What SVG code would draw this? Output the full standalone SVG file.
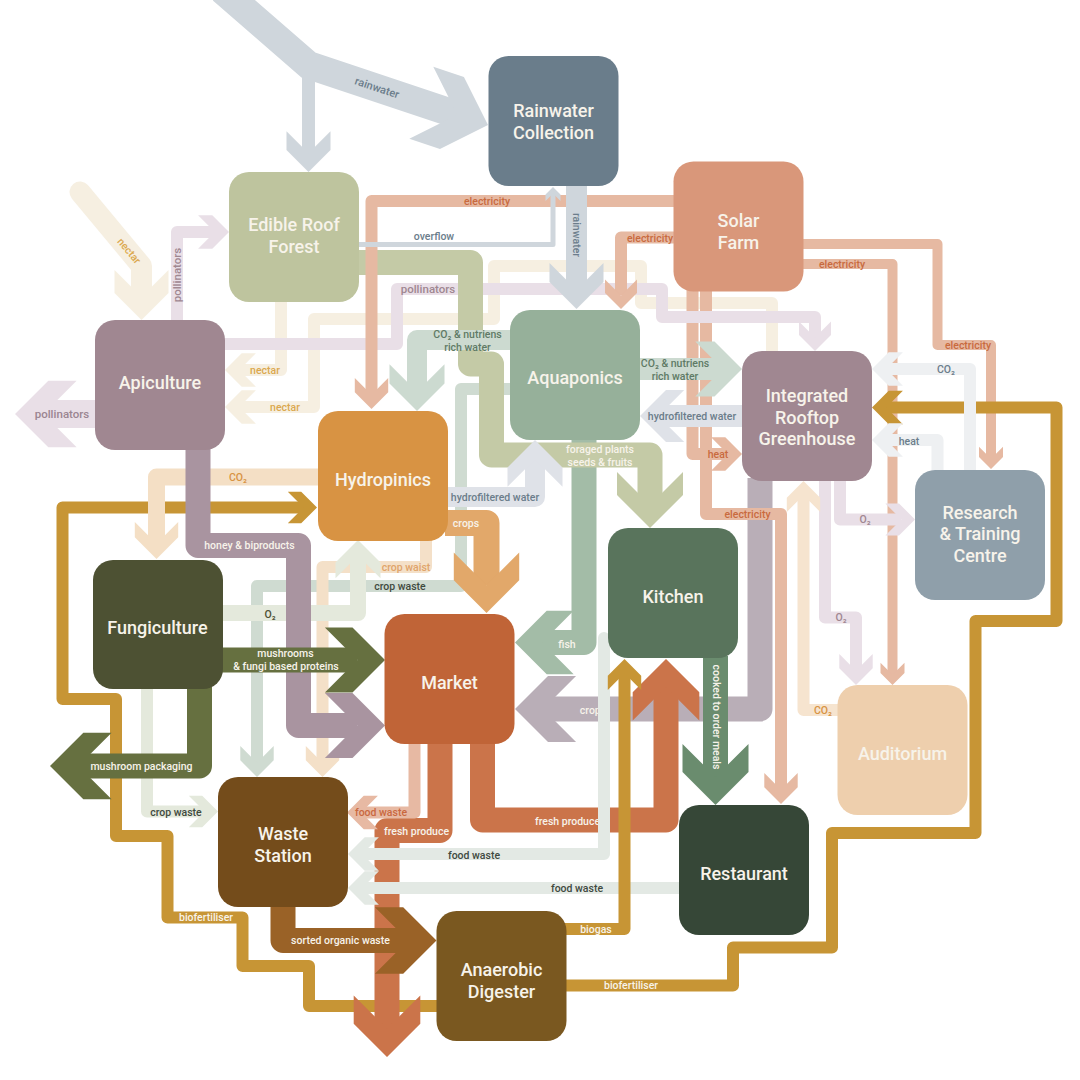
<svg xmlns="http://www.w3.org/2000/svg" xmlns:xlink="http://www.w3.org/1999/xlink" width="1080" height="1080" viewBox="0 0 1080 1080">
<style>
.s{fill:none;stroke:currentColor;stroke-linejoin:round}
use{fill:currentColor;stroke:none}
.l{font-family:Roboto,'Liberation Sans',sans-serif;font-size:10.5px;font-weight:500;text-anchor:middle;dominant-baseline:central}
.nt{font-family:Roboto,'Liberation Sans',sans-serif;font-size:18px;font-weight:500;fill:#f7f3ea;text-anchor:middle}
.rw{color:#cfd6dc}.nec{color:#f6efe1}.pol{color:#e9dfe7}.ele{color:#e6b9a2}.for{color:#c4caa6}
.cnw{color:#ccdad0}.hfw{color:#dfe2e8}.crp{color:#e2a86a}.cwt{color:#f4e0c8}.cws{color:#cfdbd1}
.o2f{color:#e4e9dc}.co2{color:#f4dfc5}.gold{color:#c79535}.hon{color:#a994a0}.mush{color:#667040}
.fish{color:#a3bca7}.crp2{color:#b9aeb7}.frs{color:#cb744a}.fwm{color:#e7b9a3}.fw{color:#e3e9e4}
.cook{color:#6a8c6e}.srt{color:#9a6227}.rsc{color:#eef0f2}.aud{color:#f6e4cf}
.lw{fill:#f7f3ea}.lg{fill:#6b7d8b}.ln{fill:#dba84e}.lp{fill:#a08791}.le{fill:#c96a3e}
.lc{fill:#5f7a66}.ld{fill:#3f4a3f}.lo{fill:#d89343}.lcw{fill:#e0a46a}
</style>
<defs>
<path id="hA" d="M0,0 L-1,-1 L-1.85,-1 L-0.85,0 L-1.85,1 L-1,1 Z"/>
<path id="hB" d="M0,0 L-1,-1 L-1.7,-1 L-0.7,0 L-1.7,1 L-1,1 Z"/>
</defs>
<rect width="1080" height="1080" fill="#ffffff"/>
<g id="connectors">
<g id="c-rain-in" class="rw">
<path class="s" style="stroke-linejoin:miter" stroke-width="28" d="M222,-10 L308.5,65 L458,115"/>
<path class="s" stroke-width="13" d="M308.5,60 V154"/>
<use href="#hA" transform="translate(488,125) rotate(18.4) scale(38)"/>
<use href="#hA" transform="translate(308.5,172) rotate(90) scale(22)"/>
<text class="l lg" style="font-size:11px" transform="translate(377,88) rotate(18.4)">rainwater</text>
</g>
<g id="c-nectar-in" class="nec">
<path class="s" stroke-width="21" stroke-linecap="round" d="M80,192 L141.5,266 L141.5,298"/>
<use href="#hA" transform="translate(141.5,320) rotate(90) scale(27)"/>
<text class="l ln" transform="translate(129,251) rotate(50)">nectar</text>
</g>
<g id="c-nectar1" class="nec">
<path class="s" stroke-width="12" d="M281,300 V370 H239"/>
<use href="#hA" transform="translate(225,370) rotate(180) scale(16.7)"/>
<text class="l ln" x="265" y="370">nectar</text>
</g>
<g id="c-nectar2" class="nec">
<path class="s" stroke-width="12" d="M772,360 V303 H641 V266 H494 V319 H314 V407 H239"/>
<use href="#hA" transform="translate(225,407) rotate(180) scale(16.7)"/>
<text class="l ln" x="285" y="407">nectar</text>
</g>
<g id="c-crops-gh" class="crp2">
<path class="s" stroke-width="25" d="M760,478 V709 H543"/>
<use href="#hA" transform="translate(515,709) rotate(180) scale(33)"/>
<text class="l lw" x="593" y="710">crops</text>
</g>
<g id="c-elec-rest" class="ele">
<path class="s" stroke-width="12" d="M706,290 V514 H781 V790"/>
<use href="#hA" transform="translate(781,804) rotate(90) scale(16.7)"/>
<text class="l le" x="747.5" y="514">electricity</text>
</g>
<g id="c-heat-solar" class="ele">
<path class="s" stroke-width="12" d="M692.5,290 V454 H728"/>
<use href="#hA" transform="translate(742,454) rotate(0) scale(16.7)"/>
<text class="l le" x="718" y="454">heat</text>
</g>
<g id="c-elec-research" class="ele">
<path class="s" stroke-width="10" d="M802,244 H937.5 V345 H991 V459"/>
<use href="#hA" transform="translate(991,469) rotate(90) scale(12)"/>
<text class="l le" x="968" y="345">electricity</text>
</g>
<g id="c-elec-aud" class="ele">
<path class="s" stroke-width="10" d="M802,264 H892.5 V675"/>
<use href="#hA" transform="translate(892.5,685) rotate(90) scale(12)"/>
<text class="l le" x="842" y="264">electricity</text>
</g>
<g id="c-poll-edible" class="pol">
<path class="s" stroke-width="12" d="M177,322 V232 H215"/>
<use href="#hA" transform="translate(229,232) rotate(0) scale(16.7)"/>
<text class="l lp" style="font-size:11.5px" transform="translate(177,275) rotate(-90)">pollinators</text>
</g>
<g id="c-poll-gh" class="pol">
<path class="s" stroke-width="12" d="M222,344 H397 V289 H662 V317 H815 V338"/>
<use href="#hA" transform="translate(815,351) rotate(90) scale(16)"/>
<text class="l lp" style="font-size:11.5px" x="428" y="289">pollinators</text>
</g>
<g id="c-poll-out" class="pol">
<path class="s" stroke-width="28" d="M97,414 H43"/>
<use href="#hA" transform="translate(15,414) rotate(180) scale(33.3)"/>
<text class="l" style="font-size:11.5px;fill:#9b8591" x="62" y="414">pollinators</text>
</g>
<g id="c-cropwaste-aq" class="cws">
<path class="s" stroke-width="12" d="M512,389 H461 V586 H257 V763"/>
<use href="#hA" transform="translate(257,777) rotate(90) scale(16.7)"/>
<text class="l ld" x="400" y="586">crop waste</text>
</g>
<g id="c-fish" class="fish">
<path class="s" stroke-width="25" d="M584,437 V642.5 H542"/>
<use href="#hA" transform="translate(515,642.5) rotate(180) scale(31.7)"/>
<text class="l lw" x="567" y="644">fish</text>
</g>
<g id="c-foraged" class="for">
<path class="s" stroke-width="25" d="M356,262.5 H470.5 V364 H491.5 V455 H650 V505"/>
<use href="#hB" transform="translate(650,528) rotate(90) scale(33)"/>
<text class="l lw" x="600" y="449">foraged plants</text>
<text class="l lw" x="600" y="462">seeds &amp; fruits</text>
</g>
<g id="c-elec-hydro" class="ele">
<path class="s" stroke-width="12" d="M675,201 H371.5 V395"/>
<use href="#hA" transform="translate(371.5,409) rotate(90) scale(16.7)"/>
<text class="l le" x="487" y="201">electricity</text>
</g>
<g id="c-elec-aqua" class="ele">
<path class="s" stroke-width="12" d="M675,237.5 H621 V295"/>
<use href="#hA" transform="translate(621,309) rotate(90) scale(16)"/>
<text class="l le" x="650" y="238">electricity</text>
</g>
<g id="c-overflow" class="rw">
<path class="s" stroke-width="5" d="M356,244.5 H553 V193"/>
<use href="#hA" transform="translate(553,187) rotate(-90) scale(7.5)"/>
<text class="l lg" x="434" y="236">overflow</text>
</g>
<g id="c-rain-aqua" class="rw">
<path class="s" stroke-width="21" d="M576.5,184 V290"/>
<use href="#hB" transform="translate(576.5,309) rotate(90) scale(27)"/>
<text class="l lg" transform="translate(576.5,235) rotate(90)">rainwater</text>
</g>
<g id="c-cnw-hydro" class="cnw">
<path class="s" stroke-width="20" d="M512,340 H417 V392"/>
<use href="#hB" transform="translate(417,411) rotate(90) scale(27.5)"/>
<text class="l lc" x="467.5" y="334">CO₂ &amp; nutriens</text>
<text class="l lc" x="467.5" y="347">rich water</text>
</g>
<g id="c-cnw-gh" class="cnw">
<path class="s" stroke-width="22" d="M637,369 H723"/>
<use href="#hB" transform="translate(742,369) rotate(0) scale(27.5)"/>
<text class="l lc" x="675" y="363">CO₂ &amp; nutriens</text>
<text class="l lc" x="675" y="376">rich water</text>
</g>
<g id="c-hfw-gh" class="hfw">
<path class="s" stroke-width="22" d="M744,416 H658"/>
<use href="#hB" transform="translate(640,416) rotate(180) scale(26)"/>
<text class="l lg" x="692" y="416">hydrofiltered water</text>
</g>
<g id="c-hfw-hydro" class="hfw">
<path class="s" stroke-width="20" d="M445,497 H535 V459"/>
<use href="#hB" transform="translate(535,440) rotate(-90) scale(27.5)"/>
<text class="l lg" x="495" y="497">hydrofiltered water</text>
</g>
<g id="c-biofert-hydro" class="gold">
<path class="s" stroke-width="12" d="M438,1006 H309 V966 H242.5 V917.5 H167.5 V836 H116 V699 H62.5 V507.5 H304"/>
<use href="#hA" transform="translate(317,507.5) rotate(0) scale(15.8)"/>
<text class="l lw" x="206" y="917.5">biofertiliser</text>
</g>
<g id="c-cropwaste-fungi" class="o2f">
<path class="s" stroke-width="12" d="M147,687 V811.5 H205"/>
<use href="#hA" transform="translate(218,811.5) rotate(0) scale(15.8)"/>
<text class="l ld" x="176" y="812">crop waste</text>
</g>
<g id="c-co2-fungi" class="co2">
<path class="s" stroke-width="17" d="M320,477 H156.5 V544"/>
<use href="#hB" transform="translate(156.5,559) rotate(90) scale(21.7)"/>
<text class="l lo" x="238" y="477">CO₂</text>
</g>
<g id="c-cropwaist" class="cwt">
<path class="s" stroke-width="12" d="M426,538 V567 H322.5 V763"/>
<use href="#hA" transform="translate(322.5,777) rotate(90) scale(16.7)"/>
<text class="l lcw" x="406" y="567">crop waist</text>
</g>
<g id="c-o2-fungi" class="o2f">
<path class="s" stroke-width="16" d="M220,613 H358 V555"/>
<use href="#hB" transform="translate(358,540) rotate(-90) scale(22.5)"/>
<text class="l" style="fill:#4e5133" x="270" y="614">O₂</text>
</g>
<g id="c-crops-hydro" class="crp">
<path class="s" stroke-width="26" d="M445,523 H486.5 V585"/>
<use href="#hA" transform="translate(486.5,613) rotate(90) scale(32.7)"/>
<text class="l lw" x="466" y="523">crops</text>
</g>
<g id="c-honey" class="hon">
<path class="s" stroke-width="25" d="M198,447 V545.5 H298.5 V725.5 H357"/>
<use href="#hA" transform="translate(385,725.5) rotate(0) scale(32.5)"/>
<text class="l lw" x="249.5" y="545.5">honey &amp; biproducts</text>
</g>
<g id="c-mushrooms" class="mush">
<path class="s" stroke-width="25" d="M220,660 H357"/>
<use href="#hA" transform="translate(385,660) rotate(0) scale(32.5)"/>
<text class="l lw" x="285.5" y="653.5">mushrooms</text>
<text class="l lw" x="286" y="666">&amp; fungi based proteins</text>
</g>
<g id="c-packaging" class="mush">
<path class="s" stroke-width="25" d="M199.5,687 V766 H78"/>
<use href="#hA" transform="translate(50,766) rotate(180) scale(33.3)"/>
<text class="l lw" x="141.5" y="766.5">mushroom packaging</text>
</g>
<g id="c-fresh-down" class="frs">
<path class="s" stroke-width="25" d="M440,742 V830.5 H387 V1029"/>
<use href="#hA" transform="translate(387,1057) rotate(90) scale(33.3)"/>
<text class="l lw" x="416.5" y="831">fresh produce</text>
</g>
<g id="c-fresh-kitchen" class="frs">
<path class="s" stroke-width="25" d="M482.5,742 V820 H666 V687"/>
<use href="#hA" transform="translate(666,659) rotate(-90) scale(33.3)"/>
<text class="l lw" x="567.5" y="821.5">fresh produce</text>
</g>
<g id="c-foodwaste-market" class="fwm">
<path class="s" stroke-width="12" d="M414.5,742 V812.5 H361"/>
<use href="#hA" transform="translate(347,812.5) rotate(180) scale(16.7)"/>
<text class="l" style="fill:#c9683f" x="381" y="812.5">food waste</text>
</g>
<g id="c-foodwaste-kitchen" class="fw">
<path class="s" stroke-width="12" stroke-linecap="round" d="M604,638 V854 H362"/>
<use href="#hA" transform="translate(348,854) rotate(180) scale(16.7)"/>
<text class="l ld" x="474" y="855">food waste</text>
</g>
<g id="c-foodwaste-rest" class="fw">
<path class="s" stroke-width="12" d="M681,888 H362"/>
<use href="#hA" transform="translate(348,888) rotate(180) scale(16.7)"/>
<text class="l ld" x="577" y="888">food waste</text>
</g>
<g id="c-biogas" class="gold">
<path class="s" stroke-width="12" d="M563,929 H624.5 V673"/>
<use href="#hA" transform="translate(624.5,659) rotate(-90) scale(16.7)"/>
<text class="l lw" x="596" y="929">biogas</text>
</g>
<g id="c-cooked" class="cook">
<path class="s" stroke-width="25" d="M715.5,656 V777"/>
<use href="#hA" transform="translate(715.5,805) rotate(90) scale(33)"/>
<text class="l lw" transform="translate(716,717) rotate(90)">cooked to order meals</text>
</g>
<g id="c-sorted" class="srt">
<path class="s" stroke-width="25" d="M283,905 V940.5 H408"/>
<use href="#hA" transform="translate(436.5,940.5) rotate(0) scale(33.3)"/>
<text class="l lw" x="340.5" y="940.5">sorted organic waste</text>
</g>
<g id="c-biofert-gh" class="gold">
<path class="s" stroke-width="12" d="M563,985.5 H733 V947.5 H832 V833 H975.5 V621 H1056.5 V407.5 H886"/>
<use href="#hA" transform="translate(872,407.5) rotate(180) scale(16.7)"/>
<text class="l lw" x="631" y="985.5">biofertiliser</text>
</g>
<g id="c-co2-research" class="rsc">
<path class="s" stroke-width="12" d="M970,472 V369 H886"/>
<use href="#hA" transform="translate(872,369) rotate(180) scale(16.7)"/>
<text class="l lg" x="946" y="369">CO₂</text>
</g>
<g id="c-heat-research" class="rsc">
<path class="s" stroke-width="12" d="M937.5,472 V440 H886"/>
<use href="#hA" transform="translate(872,440) rotate(180) scale(16.7)"/>
<text class="l lg" x="909" y="441">heat</text>
</g>
<g id="c-o2-research" class="pol">
<path class="s" stroke-width="12" d="M840,478 V519.5 H901"/>
<use href="#hA" transform="translate(915,519.5) rotate(0) scale(16)"/>
<text class="l lp" x="865" y="519.5">O₂</text>
</g>
<g id="c-o2-aud" class="pol">
<path class="s" stroke-width="12" d="M825,478 V617.5 H856 V671"/>
<use href="#hA" transform="translate(856,685) rotate(90) scale(16.7)"/>
<text class="l lp" x="841" y="617">O₂</text>
</g>
<g id="c-co2-aud" class="aud">
<path class="s" stroke-width="12" d="M839,710 H803.5 V495"/>
<use href="#hA" transform="translate(803.5,481) rotate(-90) scale(16.7)"/>
<text class="l lo" x="823" y="710">CO₂</text>
</g>
</g>
<g id="nodes">
<g id="n-rainwater"><rect x="488.5" y="56" width="130" height="130" rx="20" fill="#6a7d8b"/><text class="nt" x="553.5" y="117">Rainwater</text><text class="nt" x="553.5" y="138.5">Collection</text></g>
<g id="n-edible"><rect x="229" y="172" width="130" height="130" rx="20" fill="#bec49e"/><text class="nt" x="294" y="231">Edible Roof</text><text class="nt" x="294" y="253">Forest</text></g>
<g id="n-solar"><rect x="673.5" y="161.5" width="130" height="130" rx="20" fill="#d9977a"/><text class="nt" x="738.5" y="226.5">Solar</text><text class="nt" x="738.5" y="248.5">Farm</text></g>
<g id="n-apiculture"><rect x="95" y="320" width="130" height="130" rx="20" fill="#a08791"/><text class="nt" x="160" y="388.5">Apiculture</text></g>
<g id="n-aquaponics"><rect x="510" y="310" width="130" height="130" rx="20" fill="#96b09a"/><text class="nt" x="575" y="383.5">Aquaponics</text></g>
<g id="n-greenhouse"><rect x="742" y="351" width="130" height="130" rx="20" fill="#a08791"/><text class="nt" x="807" y="401.5">Integrated</text><text class="nt" x="807" y="423.5">Rooftop</text><text class="nt" x="807" y="445">Greenhouse</text></g>
<g id="n-hydropinics"><rect x="318" y="411" width="130" height="130" rx="20" fill="#d89343"/><text class="nt" x="383" y="486">Hydropinics</text></g>
<g id="n-research"><rect x="915" y="470" width="130" height="130" rx="20" fill="#8f9faa"/><text class="nt" x="980" y="518.5">Research</text><text class="nt" x="980" y="540">&amp; Training</text><text class="nt" x="980" y="562">Centre</text></g>
<g id="n-fungiculture"><rect x="93" y="560" width="130" height="129" rx="20" fill="#4d5133"/><text class="nt" x="157.5" y="634">Fungiculture</text></g>
<g id="n-kitchen"><rect x="608" y="528" width="130" height="130" rx="20" fill="#59745c"/><text class="nt" x="673" y="603">Kitchen</text></g>
<g id="n-market"><rect x="384.5" y="614" width="130" height="130" rx="20" fill="#c06437"/><text class="nt" x="449.5" y="689">Market</text></g>
<g id="n-auditorium"><rect x="837.5" y="685" width="130" height="130" rx="20" fill="#eecfad"/><text class="nt" x="902.5" y="760">Auditorium</text></g>
<g id="n-waste"><rect x="218" y="777" width="130" height="130" rx="20" fill="#744c1b"/><text class="nt" x="283" y="840">Waste</text><text class="nt" x="283" y="862">Station</text></g>
<g id="n-restaurant"><rect x="679" y="805" width="130" height="130" rx="20" fill="#364737"/><text class="nt" x="744" y="880">Restaurant</text></g>
<g id="n-digester"><rect x="436.5" y="911" width="130" height="130" rx="20" fill="#7a5820"/><text class="nt" x="501.5" y="976">Anaerobic</text><text class="nt" x="501.5" y="998">Digester</text></g>
</g>
</svg>
